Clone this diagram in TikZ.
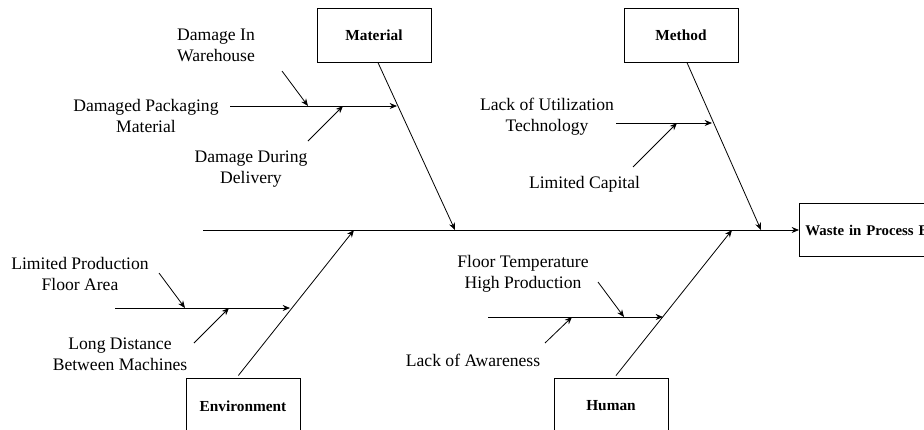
\documentclass[tikz,border=0pt]{standalone}
\usepackage{fontspec}
\setmainfont{Liberation Serif}
\usetikzlibrary{arrows.meta,positioning}
\tikzset{
  cause/.style={draw,line width=0.7pt,minimum width=85.5pt,minimum height=40pt,
    font=\fontsize{11.5}{13}\selectfont\bfseries},
  lbl/.style={align=center,inner sep=0pt,font=\fontsize{13.2}{15.8}\selectfont},
  >={Stealth[length=5.5pt,width=4.5pt]}
}

\begin{document}
\begin{tikzpicture}[x=0.75pt,y=-0.75pt,line width=0.6pt]
\useasboundingbox (0,0) rectangle (924,429);
% category boxes and effect
\node[cause] (mat) at (374,35.5) {Material};
\node[cause] (meth) at (681,35.5) {Method};
\node[cause,minimum height=42pt] (env) at (243,406) {Environment};
\node[cause,minimum height=42pt] (hum) at (611,406) {Human};
\node[cause,anchor=west,text width=110pt,align=left,inner xsep=4.5pt,
  font=\fontsize{11.1}{13}\selectfont\bfseries] (eff) at (799,230) {Waste in Process B};
% spine
\coordinate (tail) at (203,230);
\draw[->] (tail) -- (eff.west);
\coordinate (jmat) at (455,230);
\coordinate (jmeth) at (761,230);
\coordinate (jenv) at (354,230);
\coordinate (jhum) at (732,230);
\draw[->] ([xshift=3pt]mat.south) -- (jmat);
\draw[->] ([xshift=4.5pt]meth.south) -- (jmeth);
\draw[->] ([xshift=-3.5pt,yshift=1.5pt]env.north) -- (jenv);
\draw[->] ([xshift=3.75pt,yshift=1.5pt]hum.north) -- (jhum);
% material
\node[lbl] (wh) at (216,45) {Damage In\\Warehouse};
\node[lbl] (pack) at (146,116) {Damaged Packaging\\Material};
\node[lbl] (deliv) at (251,169) {Damage During\\Delivery};
\coordinate (bmat) at (230,106);
\coordinate (emat) at (397,106);
\draw[->] (bmat) -- (emat);
\coordinate (whs) at (282,71);
\coordinate (whe) at (308,106);
\draw[->] (whs) -- (whe);
\coordinate (dls) at (308,141);
\coordinate (dle) at (343,106);
\draw[->] (dls) -- (dle);
% method
\node[lbl] (tech) at (547,117) {Lack of Utilization\\Technology};
\node[lbl] (cap) at (584.5,184) {Limited Capital};
\coordinate (bmeth) at (616,123);
\coordinate (emeth) at (712,123);
\draw[->] (bmeth) -- (emeth);
\coordinate (cps) at (633,167);
\coordinate (cpe) at (677,123);
\draw[->] (cps) -- (cpe);
% environment
\node[lbl] (area) at (80,274) {Limited Production\\Floor Area};
\node[lbl] (dist) at (120,354) {Long Distance\\Between Machines};
\coordinate (benv) at (115,308);
\coordinate (eenv) at (290,308);
\draw[->] (benv) -- (eenv);
\coordinate (ars) at (159,273);
\coordinate (are) at (185,308);
\draw[->] (ars) -- (are);
\coordinate (dss) at (194,343);
\coordinate (dse) at (229,308);
\draw[->] (dss) -- (dse);
% human
\node[lbl] (temp) at (523,274) {Floor Temperature\\High Production};
\node[lbl] (aware) at (473,360) {Lack of Awareness};
\coordinate (bhum) at (488,317);
\coordinate (ehum) at (663,317);
\draw[->] (bhum) -- (ehum);
\coordinate (tps) at (598,282);
\coordinate (tpe) at (624,317);
\draw[->] (tps) -- (tpe);
\coordinate (aws) at (545,343);
\coordinate (awe) at (572,317);
\draw[->] (aws) -- (awe);
\end{tikzpicture}
\end{document}
